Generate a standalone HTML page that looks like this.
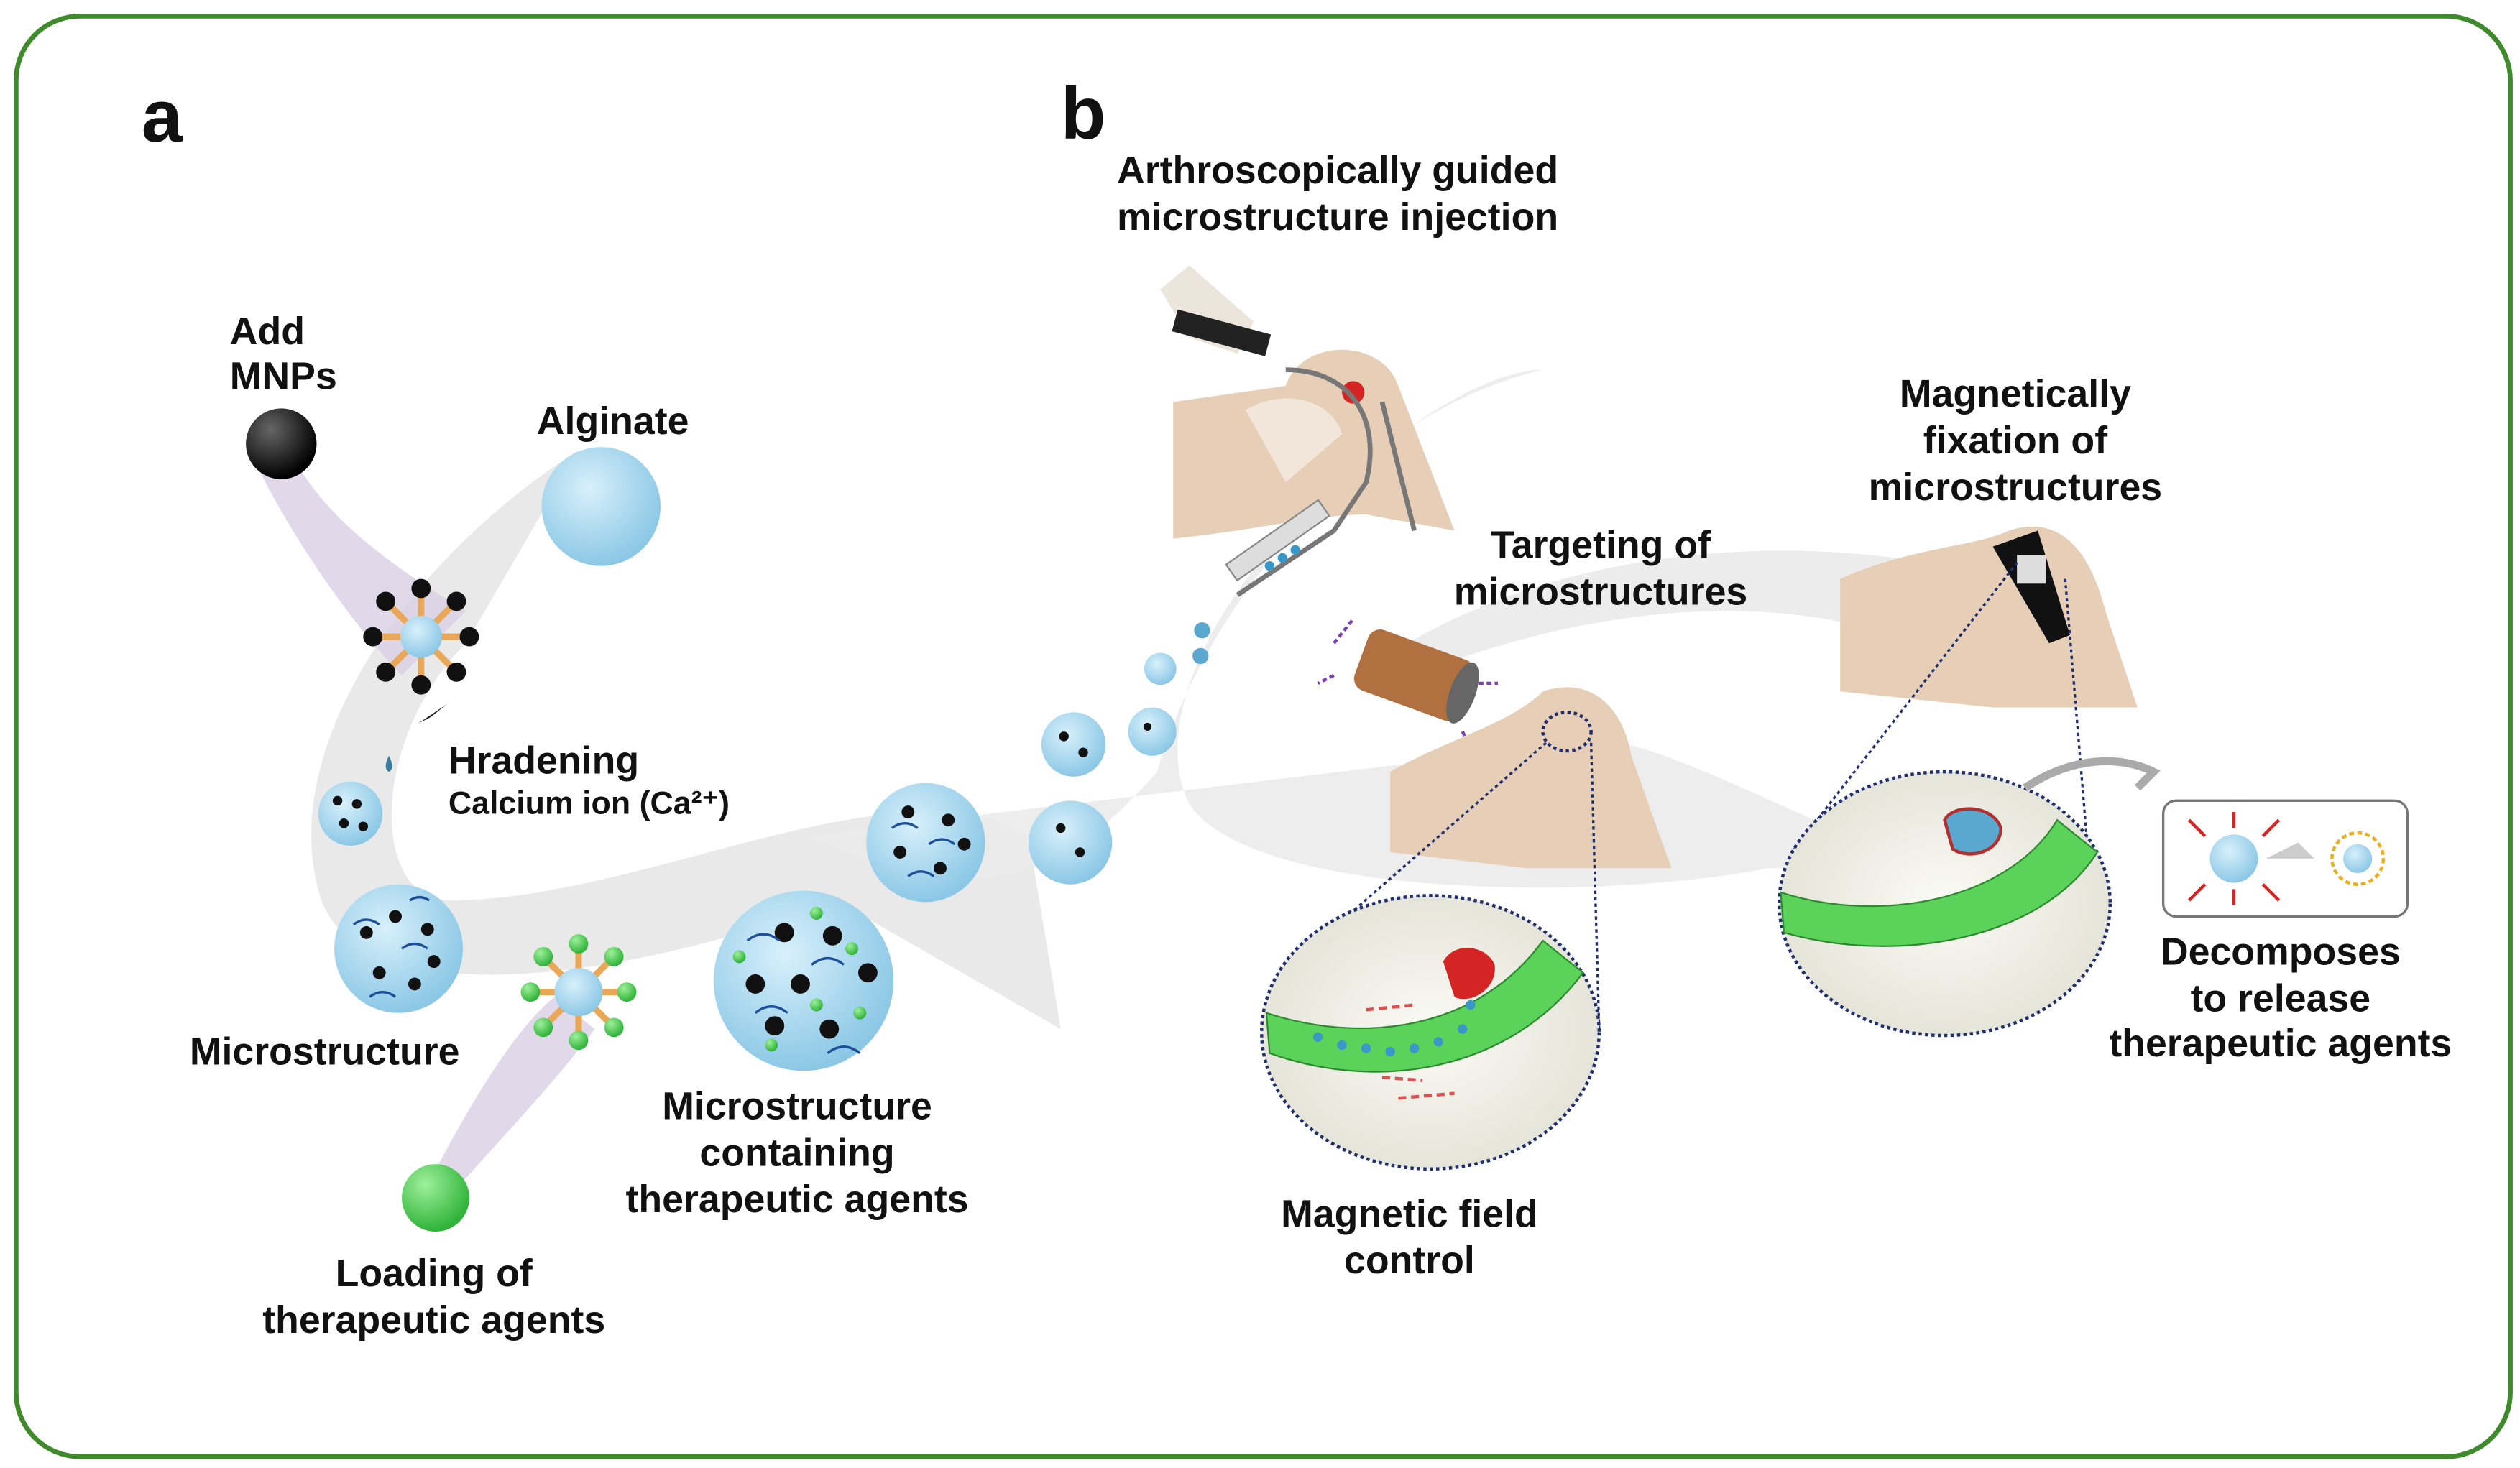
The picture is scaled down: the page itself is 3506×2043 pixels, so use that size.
<!DOCTYPE html>
<html><head><meta charset="utf-8"><style>
html,body{margin:0;padding:0;background:#fff}
svg{display:block}
text{font-family:"Liberation Sans",Arial,sans-serif;font-weight:bold;fill:#111}
</style></head><body>
<svg width="3506" height="2043" viewBox="0 0 1568 913" preserveAspectRatio="none" xmlns="http://www.w3.org/2000/svg">
<defs>
<radialGradient id="blue" cx="40%" cy="35%" r="65%"><stop offset="0" stop-color="#d8f0fb"/><stop offset="1" stop-color="#8cc8e6"/></radialGradient>
<radialGradient id="blk" cx="35%" cy="30%" r="70%"><stop offset="0" stop-color="#666"/><stop offset="1" stop-color="#000"/></radialGradient>
<radialGradient id="grn" cx="35%" cy="30%" r="70%"><stop offset="0" stop-color="#9ef09a"/><stop offset="1" stop-color="#2fb33a"/></radialGradient>
<radialGradient id="lens" cx="50%" cy="50%" r="55%"><stop offset="0" stop-color="#fbfbf6"/><stop offset="1" stop-color="#e2e2d6"/></radialGradient>
</defs>
<rect x="10" y="10" width="1552" height="896" rx="40" fill="#fff" stroke="#3f8a2c" stroke-width="3"/>
<path d="M360 280 C250 350 170 470 200 560 C230 640 420 600 520 560 L660 640 L640 520 C560 470 400 560 280 560 C230 560 230 460 290 400 Z" fill="#e9e9e9"/>
<path d="M500 520 C600 560 650 560 720 480 C760 340 900 230 960 230 C830 260 700 420 740 500 C780 560 1000 560 1100 540 L1200 540 C1100 500 1050 470 1000 460 Z" fill="#ebebeb" opacity="0.9"/>
<path d="M880 420 C980 380 1080 370 1160 390 L1200 350 C1080 330 950 350 860 410 Z" fill="#ececec"/>
<path d="M160 290 C190 350 230 400 250 420 L290 380 C240 350 200 320 180 280 Z" fill="#d9cfe3" opacity="0.8"/>
<path d="M262 745 C290 690 320 640 345 620 L370 640 C340 680 300 720 275 750 Z" fill="#d9cfe3" opacity="0.8"/>
<text x="88" y="88" font-size="46">a</text>
<text x="660" y="86" font-size="46">b</text>
<text x="143" y="214" font-size="24">Add</text>
<text x="143" y="242" font-size="24">MNPs</text>
<circle cx="175" cy="276" r="22" fill="url(#blk)"/>
<text x="334" y="270" font-size="24">Alginate</text>
<circle cx="374" cy="315" r="37" fill="url(#blue)"/>
<g transform="translate(262,396)">
<g stroke="#e8a857" stroke-width="4">
<line x1="0" y1="0" x2="0" y2="-28"/><line x1="0" y1="0" x2="20" y2="-20"/><line x1="0" y1="0" x2="28" y2="0"/><line x1="0" y1="0" x2="20" y2="20"/><line x1="0" y1="0" x2="0" y2="28"/><line x1="0" y1="0" x2="-20" y2="20"/><line x1="0" y1="0" x2="-28" y2="0"/><line x1="0" y1="0" x2="-20" y2="-20"/></g>
<g fill="#111"><circle cx="0" cy="-30" r="6"/><circle cx="22" cy="-22" r="6"/><circle cx="30" cy="0" r="6"/><circle cx="22" cy="22" r="6"/><circle cx="0" cy="30" r="6"/><circle cx="-22" cy="22" r="6"/><circle cx="-30" cy="0" r="6"/><circle cx="-22" cy="-22" r="6"/></g>
<circle r="13" fill="url(#blue)"/></g>
<path d="M260 450 L278 438 L268 446 Z" fill="#222"/>
<path d="M242 470 Q238 478 242 480 Q246 478 242 470 Z" fill="#3a7ea0"/>
<text x="279" y="481" font-size="24">Hradening</text>
<text x="279" y="506" font-size="20">Calcium ion (Ca²⁺)</text>
<circle cx="218" cy="506" r="20" fill="url(#blue)"/>
<g fill="#111"><circle cx="210" cy="498" r="3"/><circle cx="222" cy="500" r="3"/><circle cx="214" cy="512" r="3"/><circle cx="226" cy="514" r="3"/></g>
<circle cx="248" cy="590" r="40" fill="url(#blue)"/>
<g fill="#111"><circle cx="228" cy="580" r="4"/><circle cx="246" cy="570" r="4"/><circle cx="266" cy="578" r="4"/><circle cx="236" cy="605" r="4"/><circle cx="258" cy="612" r="4"/><circle cx="270" cy="598" r="4"/></g>
<path d="M220 575 q8 -6 16 0 M250 590 q8 -6 16 0 M230 620 q8 -6 16 0 M255 560 q6 -4 12 0" stroke="#1d4f9a" stroke-width="1.5" fill="none"/>
<text x="118" y="662" font-size="24">Microstructure</text>
<g transform="translate(360,617)">
<g stroke="#e8a857" stroke-width="4"><line x1="0" y1="-28" x2="0" y2="28"/><line x1="-28" y1="0" x2="28" y2="0"/><line x1="-20" y1="-20" x2="20" y2="20"/><line x1="20" y1="-20" x2="-20" y2="20"/></g>
<g fill="url(#grn)"><circle cx="0" cy="-30" r="6"/><circle cx="22" cy="-22" r="6"/><circle cx="30" cy="0" r="6"/><circle cx="22" cy="22" r="6"/><circle cx="0" cy="30" r="6"/><circle cx="-22" cy="22" r="6"/><circle cx="-30" cy="0" r="6"/><circle cx="-22" cy="-22" r="6"/></g>
<circle r="15" fill="url(#blue)"/></g>
<circle cx="271" cy="745" r="21" fill="url(#grn)"/>
<text x="270" y="800" font-size="24" text-anchor="middle">Loading of</text>
<text x="270" y="829" font-size="24" text-anchor="middle">therapeutic agents</text>
<circle cx="500" cy="610" r="56" fill="url(#blue)"/>
<g fill="#111"><circle cx="488" cy="580" r="6"/><circle cx="518" cy="582" r="6"/><circle cx="470" cy="612" r="6"/><circle cx="498" cy="612" r="6"/><circle cx="540" cy="605" r="6"/><circle cx="482" cy="638" r="6"/><circle cx="516" cy="640" r="6"/></g>
<g fill="url(#grn)"><circle cx="508" cy="568" r="4"/><circle cx="530" cy="590" r="4"/><circle cx="460" cy="595" r="4"/><circle cx="480" cy="650" r="4"/><circle cx="535" cy="630" r="4"/><circle cx="508" cy="625" r="4"/></g>
<path d="M465 585 q10 -8 20 0 M505 600 q10 -8 20 0 M470 630 q10 -8 20 0 M515 655 q10 -8 20 0" stroke="#1d4f9a" stroke-width="1.5" fill="none"/>
<text x="496" y="696" font-size="24" text-anchor="middle">Microstructure</text>
<text x="496" y="725" font-size="24" text-anchor="middle">containing</text>
<text x="496" y="754" font-size="24" text-anchor="middle">therapeutic agents</text>
<circle cx="576" cy="524" r="37" fill="url(#blue)"/>
<g fill="#111"><circle cx="565" cy="505" r="4"/><circle cx="590" cy="510" r="4"/><circle cx="560" cy="530" r="4"/><circle cx="585" cy="540" r="4"/><circle cx="600" cy="525" r="4"/></g>
<path d="M555 515 q8 -6 16 0 M578 525 q8 -6 16 0 M565 545 q8 -6 16 0" stroke="#1d4f9a" stroke-width="1.5" fill="none"/>
<circle cx="666" cy="524" r="26" fill="url(#blue)"/>
<circle cx="668" cy="463" r="20" fill="url(#blue)"/>
<circle cx="717" cy="455" r="15" fill="url(#blue)"/>
<circle cx="722" cy="416" r="10" fill="url(#blue)"/>
<circle cx="747" cy="408" r="5" fill="#5aa8d0"/>
<circle cx="748" cy="392" r="5" fill="#5aa8d0"/>
<g fill="#111"><circle cx="660" cy="515" r="3"/><circle cx="672" cy="530" r="3"/><circle cx="662" cy="458" r="3"/><circle cx="674" cy="468" r="3"/><circle cx="714" cy="452" r="2.5"/></g>
<text x="695" y="114" font-size="24">Arthroscopically guided</text>
<text x="695" y="143" font-size="24">microstructure injection</text>
<path d="M730 250 L800 240 C810 210 860 210 870 240 L905 330 L850 320 C820 320 780 330 730 335 Z" fill="#e6cfb6"/>
<path d="M775 255 C800 240 830 250 835 270 L800 300 Z" fill="#f1e6d9"/>
<circle cx="842" cy="244" r="7" fill="#d42424"/>
<path d="M722 180 L740 165 L780 200 L770 220 L740 210 Z" fill="#ece5dc"/>
<rect x="730" y="200" width="60" height="14" fill="#222" transform="rotate(15 760 207)"/>
<path d="M800 230 C840 230 860 260 850 300 L830 330 L770 370" stroke="#777" stroke-width="3" fill="none"/>
<path d="M860 250 L880 330" stroke="#777" stroke-width="3"/>
<rect x="760" y="330" width="70" height="12" fill="#ddd" stroke="#888" transform="rotate(-35 795 336)"/>
<g fill="#3a98c8"><circle cx="790" cy="352" r="3"/><circle cx="798" cy="347" r="3"/><circle cx="806" cy="342" r="3"/></g>
<text x="996" y="347" font-size="24" text-anchor="middle">Targeting of</text>
<text x="996" y="376" font-size="24" text-anchor="middle">microstructures</text>
<g transform="rotate(20 880 420)"><rect x="845" y="400" width="70" height="40" rx="8" fill="#b07040"/><ellipse cx="912" cy="420" rx="8" ry="20" fill="#666"/></g>
<path d="M830 400 l12 -15 M830 420 l-10 5 M910 455 l5 10 M920 425 l12 0" stroke="#7b3fb0" stroke-width="2" stroke-dasharray="3 2"/>
<path d="M865 480 C900 460 940 450 960 430 C990 420 1010 440 1015 470 L1040 540 L950 540 L865 530 Z" fill="#e6cfb6"/>
<ellipse cx="975" cy="455" rx="15" ry="12" fill="none" stroke="#1f2f6e" stroke-width="2" stroke-dasharray="2 2"/>
<line x1="962" y1="462" x2="815" y2="590" stroke="#1f2f6e" stroke-width="1.5" stroke-dasharray="2 2"/>
<line x1="990" y1="462" x2="995" y2="640" stroke="#1f2f6e" stroke-width="1.5" stroke-dasharray="2 2"/>
<ellipse cx="890" cy="642" rx="105" ry="85" fill="url(#lens)" stroke="#1f2f6e" stroke-width="2" stroke-dasharray="2 2"/>
<path d="M788 630 C850 650 920 640 960 585 L985 605 C940 665 860 680 790 655 Z" fill="#5bd35a" stroke="#2e8a2e"/>
<g fill="#3a98c8"><circle cx="820" cy="645" r="3"/><circle cx="835" cy="650" r="3"/><circle cx="850" cy="652" r="3"/><circle cx="865" cy="654" r="3"/><circle cx="880" cy="652" r="3"/><circle cx="895" cy="648" r="3"/><circle cx="910" cy="640" r="3"/><circle cx="915" cy="625" r="3"/></g>
<path d="M898 598 C905 585 925 588 930 600 C932 615 915 625 905 620 Z" fill="#d42424"/>
<g stroke="#e05050" stroke-width="2" stroke-dasharray="5 3"><line x1="850" y1="628" x2="880" y2="625"/><line x1="860" y1="670" x2="885" y2="672"/><line x1="870" y1="683" x2="905" y2="680"/></g>
<text x="877" y="763" font-size="24" text-anchor="middle">Magnetic field</text>
<text x="877" y="792" font-size="24" text-anchor="middle">control</text>
<text x="1254" y="253" font-size="24" text-anchor="middle">Magnetically</text>
<text x="1254" y="282" font-size="24" text-anchor="middle">fixation of</text>
<text x="1254" y="311" font-size="24" text-anchor="middle">microstructures</text>
<path d="M1145 360 C1190 340 1230 340 1250 330 C1280 320 1300 340 1310 380 L1330 440 L1240 440 L1145 430 Z" fill="#e6cfb6"/>
<path d="M1240 340 L1268 330 L1288 395 L1275 400 Z" fill="#111"/>
<rect x="1255" y="345" width="18" height="18" fill="#ddd"/>
<line x1="1255" y1="350" x2="1115" y2="530" stroke="#1f2f6e" stroke-width="1.5" stroke-dasharray="2 2"/>
<line x1="1285" y1="360" x2="1300" y2="540" stroke="#1f2f6e" stroke-width="1.5" stroke-dasharray="2 2"/>
<ellipse cx="1210" cy="562" rx="103" ry="82" fill="url(#lens)" stroke="#1f2f6e" stroke-width="2" stroke-dasharray="2 2"/>
<path d="M1108 555 C1170 575 1250 560 1280 510 L1305 530 C1270 585 1180 600 1110 580 Z" fill="#5bd35a" stroke="#2e8a2e"/>
<path d="M1210 510 C1215 500 1240 500 1245 515 C1245 530 1225 535 1215 528 Z" fill="#5aa8d0" stroke="#b03030" stroke-width="2"/>
<path d="M1260 490 C1290 470 1320 470 1340 480 L1330 490" stroke="#aaa" stroke-width="5" fill="none"/>
<rect x="1346" y="498" width="152" height="72" rx="8" fill="#fff" stroke="#777" stroke-width="1.5"/>
<circle cx="1390" cy="534" r="15" fill="url(#blue)"/>
<path d="M1410 534 L1440 534 L1430 524 Z" fill="#ccc"/>
<circle cx="1467" cy="534" r="16" fill="none" stroke="#e8b020" stroke-width="2" stroke-dasharray="3 2"/>
<circle cx="1467" cy="534" r="9" fill="url(#blue)"/>
<g stroke="#d42424" stroke-width="2"><line x1="1372" y1="520" x2="1362" y2="510"/><line x1="1408" y1="520" x2="1418" y2="510"/><line x1="1372" y1="550" x2="1362" y2="560"/><line x1="1408" y1="550" x2="1418" y2="560"/><line x1="1390" y1="515" x2="1390" y2="505"/><line x1="1390" y1="553" x2="1390" y2="563"/></g>
<text x="1419" y="600" font-size="24" text-anchor="middle">Decomposes</text>
<text x="1419" y="629" font-size="24" text-anchor="middle">to release</text>
<text x="1419" y="657" font-size="24" text-anchor="middle">therapeutic agents</text>
</svg>
</body></html>
